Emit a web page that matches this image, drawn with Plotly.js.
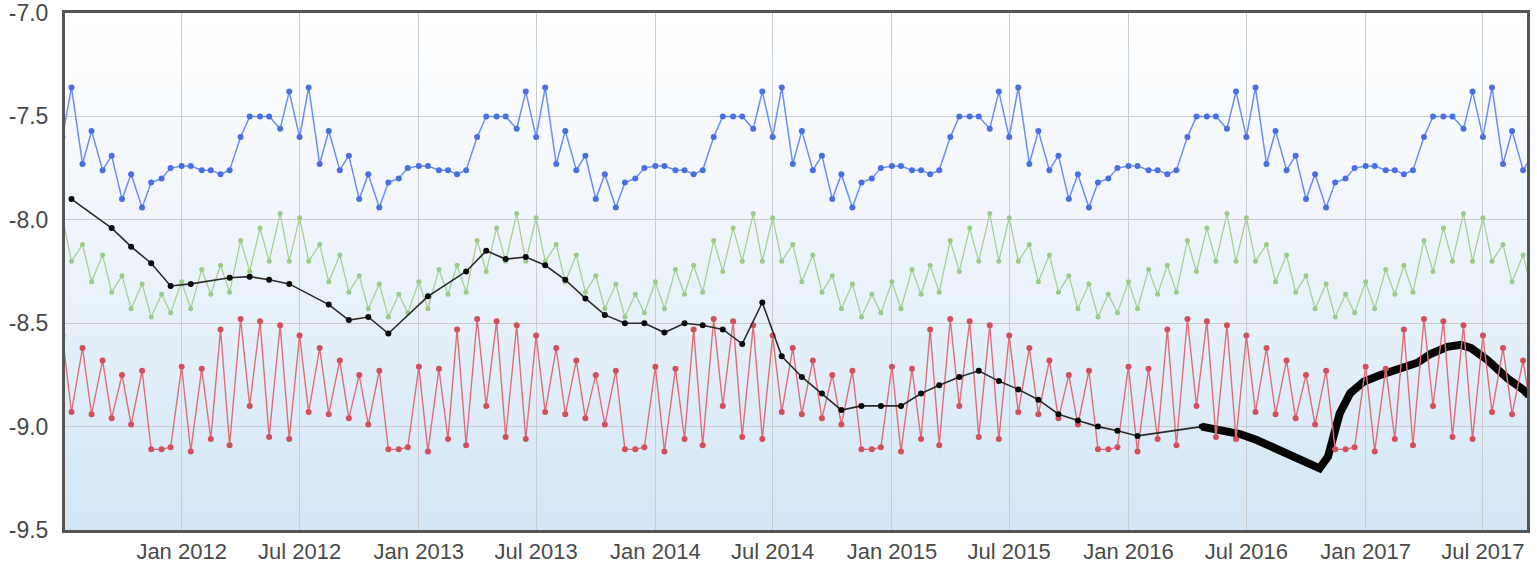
<!DOCTYPE html>
<html>
<head>
<meta charset="utf-8">
<script src="https://cdn.plot.ly/plotly-3.0.1.min.js"></script>
<style>
  html, body { margin: 0; padding: 0; background: #ffffff; }
  #chart { width: 1537px; height: 567px; }
</style>
</head>
<body>
<div id="chart"></div>
<script>
// Semi-monthly sampling grid (1st and 15th of each month), Jul 2011 .. Sep 2017
const gridStart = { year: 2011, month: 7 };
const gridCount = 150;

// Blue series (semi-monthly)
const blueValues = [
  -7.60,-7.36,-7.73,-7.57,-7.76,-7.69,-7.90,-7.78,-7.94,-7.82,-7.80,-7.75,-7.74,-7.74,-7.76,-7.76,-7.78,-7.76,-7.60,-7.50,-7.50,-7.50,-7.56,-7.38,
  -7.60,-7.36,-7.73,-7.57,-7.76,-7.69,-7.90,-7.78,-7.94,-7.82,-7.80,-7.75,-7.74,-7.74,-7.76,-7.76,-7.78,-7.76,-7.60,-7.50,-7.50,-7.50,-7.56,-7.38,
  -7.60,-7.36,-7.73,-7.57,-7.76,-7.69,-7.90,-7.78,-7.94,-7.82,-7.80,-7.75,-7.74,-7.74,-7.76,-7.76,-7.78,-7.76,-7.60,-7.50,-7.50,-7.50,-7.56,-7.38,
  -7.60,-7.36,-7.73,-7.57,-7.76,-7.69,-7.90,-7.78,-7.94,-7.82,-7.80,-7.75,-7.74,-7.74,-7.76,-7.76,-7.78,-7.76,-7.60,-7.50,-7.50,-7.50,-7.56,-7.38,
  -7.60,-7.36,-7.73,-7.57,-7.76,-7.69,-7.90,-7.78,-7.94,-7.82,-7.80,-7.75,-7.74,-7.74,-7.76,-7.76,-7.78,-7.76,-7.60,-7.50,-7.50,-7.50,-7.56,-7.38,
  -7.60,-7.36,-7.73,-7.57,-7.76,-7.69,-7.90,-7.78,-7.94,-7.82,-7.80,-7.75,-7.74,-7.74,-7.76,-7.76,-7.78,-7.76,-7.60,-7.50,-7.50,-7.50,-7.56,-7.38,
  -7.60,-7.36,-7.73,-7.57,-7.76,-7.69
];

// Green series (semi-monthly)
const greenValues = [
  -7.99,-8.20,-8.12,-8.30,-8.17,-8.35,-8.27,-8.43,-8.31,-8.47,-8.36,-8.45,-8.30,-8.43,-8.24,-8.36,-8.22,-8.35,-8.10,-8.25,-8.04,-8.20,-7.97,-8.20,
  -7.99,-8.20,-8.12,-8.30,-8.17,-8.35,-8.27,-8.43,-8.31,-8.47,-8.36,-8.45,-8.30,-8.43,-8.24,-8.36,-8.22,-8.35,-8.10,-8.25,-8.04,-8.20,-7.97,-8.20,
  -7.99,-8.20,-8.12,-8.30,-8.17,-8.35,-8.27,-8.43,-8.31,-8.47,-8.36,-8.45,-8.30,-8.43,-8.24,-8.36,-8.22,-8.35,-8.10,-8.25,-8.04,-8.20,-7.97,-8.20,
  -7.99,-8.20,-8.12,-8.30,-8.17,-8.35,-8.27,-8.43,-8.31,-8.47,-8.36,-8.45,-8.30,-8.43,-8.24,-8.36,-8.22,-8.35,-8.10,-8.25,-8.04,-8.20,-7.97,-8.20,
  -7.99,-8.20,-8.12,-8.30,-8.17,-8.35,-8.27,-8.43,-8.31,-8.47,-8.36,-8.45,-8.30,-8.43,-8.24,-8.36,-8.22,-8.35,-8.10,-8.25,-8.04,-8.20,-7.97,-8.20,
  -7.99,-8.20,-8.12,-8.30,-8.17,-8.35,-8.27,-8.43,-8.31,-8.47,-8.36,-8.45,-8.30,-8.43,-8.24,-8.36,-8.22,-8.35,-8.10,-8.25,-8.04,-8.20,-7.97,-8.20,
  -7.99,-8.20,-8.12,-8.30,-8.17,-8.35
];

// Red series (semi-monthly)
const redValues = [
  -8.56,-8.93,-8.62,-8.94,-8.68,-8.96,-8.75,-8.99,-8.73,-9.11,-9.11,-9.10,-8.71,-9.12,-8.72,-9.06,-8.53,-9.09,-8.48,-8.90,-8.49,-9.05,-8.51,-9.06,
  -8.56,-8.93,-8.62,-8.94,-8.68,-8.96,-8.75,-8.99,-8.73,-9.11,-9.11,-9.10,-8.71,-9.12,-8.72,-9.06,-8.53,-9.09,-8.48,-8.90,-8.49,-9.05,-8.51,-9.06,
  -8.56,-8.93,-8.62,-8.94,-8.68,-8.96,-8.75,-8.99,-8.73,-9.11,-9.11,-9.10,-8.71,-9.12,-8.72,-9.06,-8.53,-9.09,-8.48,-8.90,-8.49,-9.05,-8.51,-9.06,
  -8.56,-8.93,-8.62,-8.94,-8.68,-8.96,-8.75,-8.99,-8.73,-9.11,-9.11,-9.10,-8.71,-9.12,-8.72,-9.06,-8.53,-9.09,-8.48,-8.90,-8.49,-9.05,-8.51,-9.06,
  -8.56,-8.93,-8.62,-8.94,-8.68,-8.96,-8.75,-8.99,-8.73,-9.11,-9.11,-9.10,-8.71,-9.12,-8.72,-9.06,-8.53,-9.09,-8.48,-8.90,-8.49,-9.05,-8.51,-9.06,
  -8.56,-8.93,-8.62,-8.94,-8.68,-8.96,-8.75,-8.99,-8.73,-9.11,-9.11,-9.10,-8.71,-9.12,-8.72,-9.06,-8.53,-9.09,-8.48,-8.90,-8.49,-9.05,-8.51,-9.06,
  -8.56,-8.93,-8.62,-8.94,-8.68,-8.96
];

// Black series, monthly part
const blackDates = [
  '2011-07-15','2011-09-15','2011-10-15','2011-11-15','2011-12-15','2012-01-15','2012-03-15','2012-04-15',
  '2012-05-15','2012-06-15','2012-08-15','2012-09-15','2012-10-15','2012-11-15','2013-01-15','2013-03-15',
  '2013-04-15','2013-05-15','2013-06-15','2013-07-15','2013-08-15','2013-09-15','2013-10-15','2013-11-15',
  '2013-12-15','2014-01-15','2014-02-15','2014-03-15','2014-04-15','2014-05-15','2014-06-15','2014-07-15',
  '2014-08-15','2014-09-15','2014-10-15','2014-11-15','2014-12-15','2015-01-15','2015-02-15','2015-03-15',
  '2015-04-15','2015-05-15','2015-06-15','2015-07-15','2015-08-15','2015-09-15','2015-10-15','2015-11-15',
  '2015-12-15','2016-01-15','2016-04-23'
];
const blackValues = [
  -7.90,-8.04,-8.13,-8.21,-8.32,-8.31,-8.28,-8.275,
  -8.29,-8.31,-8.41,-8.485,-8.47,-8.55,-8.37,-8.25,
  -8.15,-8.19,-8.18,-8.22,-8.29,-8.38,-8.46,-8.50,
  -8.50,-8.545,-8.50,-8.51,-8.53,-8.60,-8.40,-8.66,
  -8.76,-8.84,-8.92,-8.90,-8.90,-8.90,-8.84,-8.80,
  -8.76,-8.73,-8.78,-8.82,-8.87,-8.94,-8.97,-9.00,
  -9.02,-9.045,-9.00
];

// Black series, dense (thick) part
const denseDates = [
  '2016-04-23','2016-05-16','2016-06-21','2016-07-17','2016-08-22','2016-09-21','2016-10-22','2016-11-04',
  '2016-11-12','2016-11-22','2016-12-08','2016-12-29','2017-01-24','2017-02-24','2017-03-22','2017-04-11',
  '2017-05-07','2017-05-28','2017-06-13','2017-07-08','2017-08-08','2017-09-02','2017-09-10'
];
const denseValues = [
  -9.00,-9.016,-9.036,-9.065,-9.113,-9.153,-9.202,-9.145,
  -9.065,-8.936,-8.839,-8.783,-8.750,-8.718,-8.691,-8.649,
  -8.614,-8.605,-8.621,-8.678,-8.767,-8.823,-8.85
];

const yTicks = [-9.5, -9.0, -8.5, -8.0, -7.5, -7.0];
const yTickText = ['-9.5', '-9.0', '-8.5', '-8.0', '-7.5', '-7.0'];

function pad(n) { return (n < 10 ? '0' : '') + n; }
const gridDates = [];
for (let i = 0; i < gridCount; i++) {
  const m0 = gridStart.month - 1 + Math.floor(i / 2);
  const y = gridStart.year + Math.floor(m0 / 12);
  const m = (m0 % 12) + 1;
  const d = (i % 2 === 0) ? 1 : 15;
  gridDates.push(y + '-' + pad(m) + '-' + pad(d));
}

const traces = [
  {
    x: denseDates, y: denseValues, type: 'scatter', mode: 'lines',
    line: { color: '#050505', width: 8 }, hoverinfo: 'skip'
  },
  {
    x: gridDates, y: greenValues, type: 'scatter', mode: 'lines+markers',
    line: { color: '#a6d195', width: 1.3 },
    marker: { color: '#9bcb88', size: 5 }
  },
  {
    x: gridDates, y: redValues, type: 'scatter', mode: 'lines+markers',
    line: { color: '#de6f78', width: 1.4 },
    marker: { color: '#d24f5c', size: 6 }
  },
  {
    x: blackDates, y: blackValues, type: 'scatter', mode: 'lines+markers',
    line: { color: '#2b2b2b', width: 1.6 },
    marker: { color: '#0a0a0a', size: 6 }
  },
  {
    x: gridDates, y: blueValues, type: 'scatter', mode: 'lines+markers',
    line: { color: '#6a8ff0', width: 1.5 },
    marker: { color: '#4a6fe3', size: 6 }
  }
];

const bgSvg = "<svg xmlns='http://www.w3.org/2000/svg' width='100' height='100' preserveAspectRatio='none'>" +
  "<defs><linearGradient id='g' x1='0' y1='0' x2='0' y2='1'>" +
  "<stop offset='0' stop-color='#ffffff'/><stop offset='0.35' stop-color='#f2f7fc'/><stop offset='1' stop-color='#d2e6f5'/>" +
  "</linearGradient></defs><rect width='100' height='100' fill='url(#g)'/></svg>";

const layout = {
  width: 1537, height: 567,
  margin: { l: 65, r: 10, t: 13, b: 37 },
  paper_bgcolor: '#ffffff',
  plot_bgcolor: 'rgba(0,0,0,0)',
  showlegend: false,
  font: { family: 'Liberation Sans, Arial, sans-serif', size: 23, color: '#4a4a4a' },
  images: [{
    source: 'data:image/svg+xml;charset=utf-8,' + encodeURIComponent(bgSvg),
    xref: 'paper', yref: 'paper', x: 0, y: 1, sizex: 1, sizey: 1,
    sizing: 'stretch', xanchor: 'left', yanchor: 'top', layer: 'below'
  }],
  xaxis: {
    type: 'date',
    range: ['2011-07-05', '2017-09-07'],
    dtick: 'M6', tick0: '2012-01-01', tickformat: '%b %Y',
    tickfont: { size: 22 },
    showgrid: true, gridcolor: '#c9cdd1', gridwidth: 1,
    showline: true, linecolor: '#555555', linewidth: 3, mirror: true,
    ticks: '', ticklabelstandoff: 0,
    zeroline: false, fixedrange: true
  },
  yaxis: {
    range: [-9.5, -7.0],
    tickmode: 'array', tickvals: yTicks, ticktext: yTickText,
    showgrid: true, gridcolor: '#c9cdd1', gridwidth: 1,
    showline: true, linecolor: '#555555', linewidth: 3, mirror: true,
    ticks: '', ticklabelstandoff: 9,
    zeroline: false, fixedrange: true
  }
};

Plotly.newPlot('chart', traces, layout, { displayModeBar: false, staticPlot: true });
</script>
</body>
</html>
